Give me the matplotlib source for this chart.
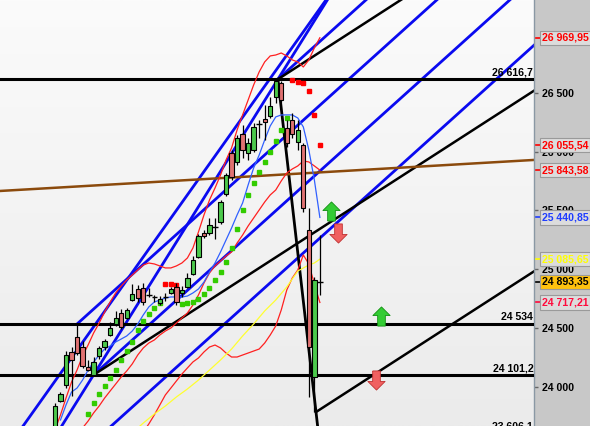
import matplotlib.pyplot as plt
import numpy as np
from matplotlib.colors import LinearSegmentedColormap
from matplotlib.path import Path
from matplotlib.patches import Rectangle
from matplotlib.transforms import blended_transform_factory

plt.rcParams["font.family"] = ["Liberation Sans", "DejaVu Sans"]

# ---------------------------------------------------------------------------
# Daily candles (bar index = position on the x axis)
# ---------------------------------------------------------------------------
opens = [23600, 23879, 24015, 24296, 24423, 24338, 24168, 24101, 24262, 24338,
         24440, 24534, 24628, 24585, 24738, 24832, 24840, 24781, 24755, 24713,
         24755, 24798, 24849, 24798, 24849, 24960, 25104, 25308, 25308, 25360,
         25402, 25640, 25989, 25913, 26151, 25989, 26015, 26245, 26279, 26304,
         26466, 26585, 26202, 26270, 26083, 26057, 25334, 24083, 24900]
highs = [23862, 23955, 24300, 24338, 24542, 24389, 24228, 24253, 24347, 24406,
         24551, 24645, 24662, 24670, 24874, 24866, 24883, 24840, 24781, 24772,
         24798, 24849, 24883, 24857, 24968, 25113, 25300, 25334, 25436, 25436,
         25589, 25819, 26015, 26143, 26228, 26117, 26245, 26270, 26398, 26466,
         26616.7, 26600, 26270, 26330, 26270, 26074, 25521, 24934, 25291]
lows = [23550, 23870, 23990, 23921, 24270, 24160, 24134, 24101.2, 24236, 24313,
        24432, 24517, 24491, 24577, 24730, 24721, 24696, 24764, 24721, 24696,
        24730, 24789, 24696, 24764, 24840, 24951, 25096, 25266, 25291, 25257,
        25385, 25623, 25760, 25887, 25947, 25930, 25998, 26117, 26100, 26287,
        26415, 26423, 26040, 26117, 26015, 25487, 23913, 23785, 24781]
closes = [23836, 23938, 24270, 24228, 24287, 24177, 24142, 24210, 24330, 24389,
          24500, 24585, 24508, 24653, 24789, 24755, 24721, 24778, 24760, 24747,
          24760, 24832, 24721, 24823, 24925, 25079, 25283, 25283, 25377, 25362,
          25572, 25802, 25785, 26117, 26015, 26074, 26211, 26240, 26253, 26389,
          26602, 26440, 26074, 26151, 26185, 25521, 24338, 24908, 24893.35]

# Bollinger bands
bb_upper = [23632, 23760, 23904, 24040, 24142, 24262, 24355, 24457, 24542, 24636,
            24721, 24798, 24857, 24908, 24951, 24994, 25036, 25053, 25045, 25028,
            25011, 25011, 25028, 25053, 25096, 25181, 25317, 25462, 25589, 25691,
            25802, 25930, 26032, 26185, 26313, 26440, 26568, 26679, 26764, 26815,
            26823, 26840, 26815, 26781, 26764, 26721, 26781, 26883, 26969.95]
bb_mid_start = 5
bb_mid = [23649, 23708, 23777, 23836, 23904, 23964, 24023, 24083, 24134, 24194,
          24270, 24330, 24372, 24398, 24440, 24474, 24500, 24542, 24585, 24628,
          24696, 24781, 24883, 24968, 25028, 25070, 25113, 25147, 25223, 25291,
          25368, 25436, 25504, 25572, 25632, 25674, 25751, 25819, 25853, 25879,
          25921, 25913, 25879, 25843.58]
bb_low_start = 15
bb_lower = [23547, 23615, 23683, 23760, 23845, 23930, 23989, 24049, 24108, 24160,
            24211, 24245, 24296, 24338, 24355, 24330, 24287, 24253, 24253, 24270,
            24287, 24304, 24321, 24372, 24440, 24517, 24653, 24823, 24925, 24994,
            25121, 25045, 24874, 24717.21]

# fast (blue) and slow (yellow) moving averages
ma_fast_start = 1
ma_fast = [23717, 23845, 23955, 23989, 24057, 24142, 24210, 24270, 24321, 24347,
           24381, 24406, 24432, 24474, 24534, 24611, 24679, 24721, 24738, 24755,
           24764, 24764, 24764, 24772, 24798, 24832, 24891, 24977, 25053, 25147,
           25249, 25351, 25462, 25564, 25717, 25862, 25972, 26100, 26219, 26296,
           26313, 26313, 26313, 26287, 26211, 26015, 25760, 25440.85]
ma_slow_idx = [15, 16, 18, 20, 22, 24, 26, 28, 30, 32, 34, 36, 38, 40, 42, 44, 46, 47, 48]
ma_slow = [23649, 23691, 23768, 23836, 23913, 23981, 24057, 24142, 24228, 24321,
           24432, 24534, 24645, 24738, 24849, 24985, 25036, 25053, 25085.65]

# Parabolic SAR
sar_up1_start = 6
sar_up1 = [23768, 23862, 23938, 24006, 24074, 24142, 24228, 24304, 24381, 24483,
           24560, 24619, 24670, 24713]
sar_dn1_start = 20
sar_dn1 = [24874, 24874, 24866]
sar_up2_start = 23
sar_up2 = [24704, 24713, 24721, 24747, 24789, 24840, 24908, 24977, 25062, 25181,
           25342, 25504, 25632, 25734, 25828, 25913, 25998, 26091, 26185, 26287]
sar_dn2_start = 43
sar_dn2 = [26611, 26594, 26585, 26517, 26313, 26055.54]

# Drawn objects
hline_levels = [26616.7, 24534, 24101.2, 23606.1]
hline_texts = ["26 616,7", "24 534", "24 101,2", "23 606,1"]
low_a = (7, 24101.2)
high_a = (4, 24534)
peak = (40.4, 26616.7)
low_b = (47.3, 23785)
slope_black = 30.3   # points per bar
slope_blue = 42.3
blue_par_pt = (26.3, 24347)
blue_steep = [(26.3, 25785), (49.1, 27291)]
brown_pts = [(-9.96, 25666), (86.8, 25930)]

up_arrows = [(50.0, 25496), (59.1, 24602)]
down_arrows = [(51.3, 25308), (58.2, 24057)]

tag_values = [26969.95, 26055.54, 25843.58, 25440.85, 25085.65, 24893.35, 24717.21]
tag_colors = ["#ff0000", "#ff0000", "#ff0000", "#1f3dff", "#ffff00", "#000000", "#ff0a3c"]
tag_faces = ["#dcdcdc", "#dcdcdc", "#dcdcdc", "#dcdcdc", "#dcdcdc", "#ffc20e", "#dcdcdc"]

XMIN, XMAX = -9.96, 86.8
YMIN, YMAX = 23666, 27291

fig = plt.figure(figsize=(5.9, 4.26), dpi=100)
fig.patches.append(Rectangle((534 / 590, 0), 56 / 590, 1, transform=fig.transFigure,
                             facecolor="#c8c8c8", edgecolor="none", zorder=-5))
ax = fig.add_axes([0, 0, 534 / 590, 1])

# background gradient
grad = np.linspace(0, 1, 256).reshape(-1, 1)
bg_cmap = LinearSegmentedColormap.from_list("bg", ["#ebebeb", "#fbfbfb"])
ax.imshow(grad, extent=[XMIN, XMAX, YMIN, YMAX], origin="lower", aspect="auto",
          cmap=bg_cmap, zorder=0)

x = np.arange(len(opens))
o = np.array(opens)
c = np.array(closes)

# horizontal levels
for lvl, txt in zip(hline_levels, hline_texts):
    ax.axhline(lvl, color="black", lw=2.2, zorder=2.6)
    ax.text(XMAX - 0.15, lvl + 15, txt, ha="right", va="bottom", fontsize=7.6,
            fontweight="bold", zorder=6, clip_on=True)

# brown line
ax.axline(brown_pts[0], brown_pts[1], color="#8b4a0c", lw=1.8, zorder=2.5)

# blue lines
xr = XMAX + 5
for ax0, ay0 in [low_a, high_a, peak]:
    ax.plot([ax0, xr], [ay0, ay0 + slope_blue * (xr - ax0)], color="#0a0af0", lw=2.0, zorder=2)
ax.axline(blue_par_pt, slope=slope_blue, color="#0a0af0", lw=2.0, zorder=2)
ax.axline(low_a, peak, color="#0a0af0", lw=2.0, zorder=2)
ax.axline(blue_steep[0], blue_steep[1], color="#0a0af0", lw=2.0, zorder=2)

# black lines
for ax0, ay0 in [low_a, peak, low_b]:
    ax.plot([ax0, xr], [ay0, ay0 + slope_black * (xr - ax0)], color="black", lw=1.8, zorder=2.2)
k3_slope = (low_b[1] - peak[1]) / (low_b[0] - peak[0])
ax.plot([peak[0], low_b[0] + 1], [peak[1], low_b[1] + k3_slope], color="black", lw=2.0, zorder=2.2)

# indicators
ax.plot(x, bb_upper, color="#ff2020", lw=0.9, zorder=3)
ax.plot(x[bb_mid_start:], bb_mid, color="#ff2020", lw=0.9, zorder=3)
ax.plot(x[bb_low_start:], bb_lower, color="#ff2020", lw=0.9, zorder=3)
ax.plot(x[ma_fast_start:], ma_fast, color="#3060ff", lw=0.9, zorder=3)
ax.plot(ma_slow_idx, ma_slow, color="#ffff30", lw=0.9, zorder=3)

for start, vals, col in [(sar_up1_start, sar_up1, "#33cc00"), (sar_dn1_start, sar_dn1, "#ff0000"),
                         (sar_up2_start, sar_up2, "#33cc00"), (sar_dn2_start, sar_dn2, "#ff0000")]:
    ax.plot(x[start:start + len(vals)], vals, ls="none", marker="s", ms=2.8,
            color=col, mec=col, zorder=4)

# candles
ax.vlines(x, lows, highs, color="black", lw=0.9, zorder=4)
doji = np.abs(c - o) < 15
body = ~doji
up = body & (c >= o)
dn = body & (c < o)
ax.bar(x[up], (c - o)[up], bottom=o[up], width=0.78, color="#4cc94c",
       edgecolor="black", lw=0.8, zorder=5)
ax.bar(x[dn], (c - o)[dn], bottom=o[dn], width=0.78, color="#e07272",
       edgecolor="black", lw=0.8, zorder=5)
ax.hlines(c[doji], x[doji] - 0.5, x[doji] + 0.5, color="black", lw=1.0, zorder=5)

# signal arrows
arrow_up = Path([(-0.2, -0.5), (0.2, -0.5), (0.2, 0.05), (0.45, 0.05), (0, 0.5),
                 (-0.45, 0.05), (-0.2, 0.05), (-0.2, -0.5)])
arrow_dn = Path([(px, -py) for px, py in arrow_up.vertices])
ax.scatter(*zip(*up_arrows), marker=arrow_up, s=190, color="#33cc33",
           edgecolor="#119011", lw=0.6, zorder=6)
ax.scatter(*zip(*down_arrows), marker=arrow_dn, s=190, color="#f06060",
           edgecolor="#c03030", lw=0.6, zorder=6)

ax.set_xlim(XMIN, XMAX)
ax.set_ylim(YMIN, YMAX)
ax.set_xticks([])
for side in ["top", "left", "bottom"]:
    ax.spines[side].set_visible(False)
ax.spines["right"].set_color("#8a98a4")
ax.spines["right"].set_linewidth(1.0)

yt = [24000, 24500, 25000, 25500, 26000, 26500]
ax.yaxis.tick_right()
ax.set_yticks(yt)
ax.set_yticklabels([f"{v:,.0f}".replace(",", " ") for v in yt], fontsize=7.6, fontweight="bold")
ax.tick_params(axis="y", length=3, width=1, color="#666666", pad=2.5)

# last value tags
trans = blended_transform_factory(ax.transAxes, ax.transData)
for val, col, face in zip(tag_values, tag_colors, tag_faces):
    label = f"{val:,.2f}".replace(",", " ").replace(".", ",")
    ax.plot([1.003, 1.011], [val, val], color=col, lw=1.2, transform=trans,
            clip_on=False, zorder=7)
    ax.text(1.0145, val, label, transform=trans, ha="left", va="center",
            fontsize=7.6, fontweight="bold", color=col, clip_on=False, zorder=8,
            bbox=dict(boxstyle="square,pad=0.2", facecolor=face, edgecolor="#9a9a9a", lw=0.8))

fig.savefig("out.png", dpi=100)
